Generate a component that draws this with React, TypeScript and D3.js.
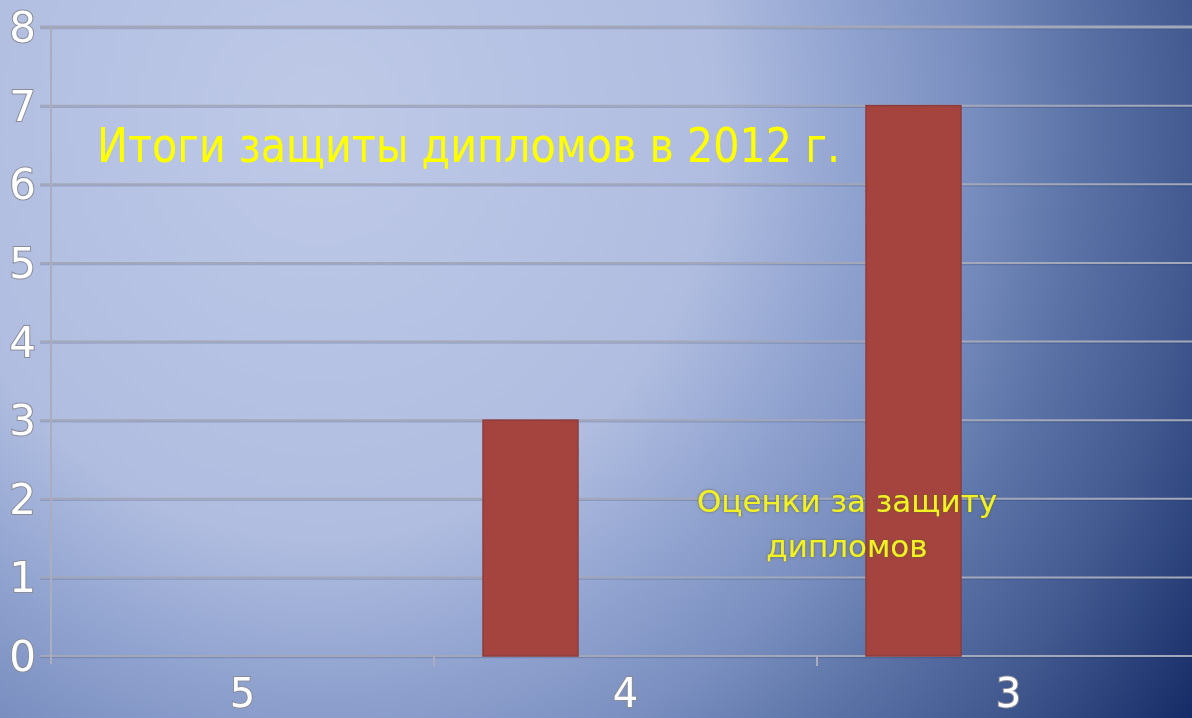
import { useEffect, useRef } from 'react';
import * as d3 from 'd3';

const categories = ['5', '4', '3'];
const seriesSlots = ['Оценки за защиту дипломов', 'slot2', 'slot3'];
const gradeCounts = [0, 3, 7];
const yTicks = [0, 1, 2, 3, 4, 5, 6, 7, 8];
const chartTitle = 'Итоги защиты дипломов в 2012 г.';
const legendLines = ['Оценки за защиту', 'дипломов'];

const W = 1192;
const H = 718;

function drawChart(svg: SVGSVGElement) {
  const el = d3.select(svg);
  el.selectAll('*').remove();

  const left = 51;
  const bottom = 656;
  const top = 27;
  const catW = 383;

  const defs = el.append('defs');
  const bg = defs.append('radialGradient')
    .attr('id', 'bg')
    .attr('gradientUnits', 'userSpaceOnUse')
    .attr('cx', 320).attr('cy', 120).attr('r', 1100)
    .attr('gradientTransform', 'translate(320,120) scale(0.95,1) translate(-320,-120)');
  bg.append('stop').attr('offset', '0%').attr('stop-color', '#bec9e7');
  bg.append('stop').attr('offset', '38%').attr('stop-color', '#b0bde0');
  bg.append('stop').attr('offset', '50%').attr('stop-color', '#93a5d1');
  bg.append('stop').attr('offset', '62%').attr('stop-color', '#7a8fc0');
  bg.append('stop').attr('offset', '73%').attr('stop-color', '#5a72a6');
  bg.append('stop').attr('offset', '84%').attr('stop-color', '#41598f');
  bg.append('stop').attr('offset', '100%').attr('stop-color', '#142a66');

  const glow = defs.append('filter').attr('id', 'glow').attr('x', '-10%').attr('y', '-30%').attr('width', '120%').attr('height', '160%');
  glow.append('feGaussianBlur').attr('in', 'SourceAlpha').attr('stdDeviation', 1.6).attr('result', 'b');
  glow.append('feFlood').attr('flood-color', '#5a5a30').attr('flood-opacity', 0.8);
  glow.append('feComposite').attr('in2', 'b').attr('operator', 'in').attr('result', 's');
  const m = glow.append('feMerge');
  m.append('feMergeNode').attr('in', 's');
  m.append('feMergeNode').attr('in', 'SourceGraphic');

  el.append('rect').attr('width', W).attr('height', H).attr('fill', 'url(#bg)');

  const y = d3.scaleLinear().domain([0, 8]).range([bottom, top]);
  const x0 = d3.scaleBand<string>().domain(categories).range([left, left + catW * categories.length]);
  const x1 = d3.scaleBand<string>().domain(seriesSlots).range([49, x0.bandwidth() - 49]);

  // gridlines
  const grid = el.append('g');
  yTicks.forEach((t) => {
    grid.append('line')
      .attr('x1', 40).attr('x2', W).attr('y1', y(t) + 1.5).attr('y2', y(t) + 1.5)
      .attr('stroke', 'rgba(30,40,80,0.18)').attr('stroke-width', 1.5);
    grid.append('line')
      .attr('x1', 40).attr('x2', W).attr('y1', y(t)).attr('y2', y(t))
      .attr('stroke', '#a2a7b9').attr('stroke-width', t === 8 ? 3 : 2);
  });

  // y axis
  el.append('line').attr('x1', left).attr('x2', left).attr('y1', y(8)).attr('y2', bottom + 8)
    .attr('stroke', '#a9adbd').attr('stroke-width', 2);

  el.append('g').selectAll('text').data(yTicks).join('text')
    .attr('x', 36).attr('y', (d) => y(d) + 15)
    .attr('text-anchor', 'end')
    .attr('font-family', 'DejaVu Sans, sans-serif')
    .attr('font-size', 42)
    .attr('fill', '#ffffff')
    .attr('stroke', '#8a8d99').attr('stroke-width', 2).attr('paint-order', 'stroke')
    .text((d) => d);

  // x axis ticks
  el.append('g').selectAll('line').data(categories.slice(1)).join('line')
    .attr('x1', (d) => x0(d)!).attr('x2', (d) => x0(d)!)
    .attr('y1', bottom).attr('y2', bottom + 10)
    .attr('stroke', '#a9adbd').attr('stroke-width', 2);

  el.append('g').selectAll('text').data(categories).join('text')
    .attr('x', (d) => x0(d)! + x0.bandwidth() / 2)
    .attr('y', 707)
    .attr('text-anchor', 'middle')
    .attr('font-family', 'DejaVu Sans, sans-serif')
    .attr('font-size', 40)
    .attr('fill', '#ffffff')
    .attr('stroke', '#8a8d99').attr('stroke-width', 2).attr('paint-order', 'stroke')
    .text((d) => d);

  // bars
  el.append('g').selectAll('rect').data(categories).join('rect')
    .attr('x', (d) => x0(d)! + x1(seriesSlots[0])!)
    .attr('y', (_, i) => y(gradeCounts[i]))
    .attr('width', x1.bandwidth())
    .attr('height', (_, i) => bottom - y(gradeCounts[i]))
    .attr('fill', '#a5443f')
    .attr('stroke', '#8c3c3d').attr('stroke-width', 1.5);

  // title
  el.append('text')
    .attr('x', 97).attr('y', 162)
    .attr('font-family', 'DejaVu Sans Condensed, DejaVu Sans, sans-serif')
    .attr('font-size', 48)
    .attr('fill', '#ffff00')
    .attr('textLength', 743).attr('lengthAdjust', 'spacingAndGlyphs')
    .text(chartTitle);

  // legend text
  el.append('g').attr('filter', 'url(#glow)').selectAll('text').data(legendLines).join('text')
    .attr('x', 847).attr('y', (_, i) => 512 + i * 45)
    .attr('text-anchor', 'middle')
    .attr('font-family', 'DejaVu Sans, sans-serif')
    .attr('font-size', 31)
    .attr('fill', '#f2f222')
    .text((d) => d);
}

export default function App() {
  const svgRef = useRef<SVGSVGElement>(null);

  useEffect(() => {
    if (!svgRef.current) return;
    drawChart(svgRef.current);
  }, []);

  return (
    <svg ref={svgRef} width={W} height={H}
      style={{ position: 'fixed', left: 0, top: 0, display: 'block' }} />
  );
}
